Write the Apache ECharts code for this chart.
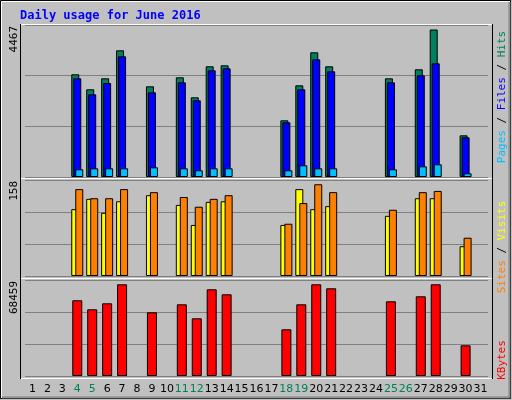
<!DOCTYPE html>
<html><head><meta charset="utf-8">
<script src="https://cdn.jsdelivr.net/npm/echarts@6/dist/echarts.min.js"></script>
<style>html,body{margin:0;padding:0;background:#c0c0c0}#c{width:512px;height:400px}</style>
</head><body><div id="c"></div>
<script>
const days = Array.from({length:31},(_,i)=>String(i+1));
const weekend = ['4','5','11','12','18','19','25','26'];
const hits   = [0,0,0,3018,2577,2900,3723,0,2665,0,2930,2342,3253,3282,0,0,0,1666,2694,3664,3253,0,0,0,2900,0,3165,4335,0,1225,0];
const files  = [0,0,0,2900,2430,2762,3547,0,2489,0,2783,2254,3136,3194,0,0,0,1607,2577,3458,3106,0,0,0,2783,0,2988,3341,0,1166,0];
const pages  = [0,0,0,226,255,255,255,0,285,0,255,197,255,255,0,0,0,197,343,255,255,0,0,0,226,0,314,373,0,108,0];
const visits = [0,0,0,110,127,104,123,0,133,0,117,84,122,123,0,0,0,84,143,110,115,0,0,0,99,0,128,128,0,49,0];
const sites  = [0,0,0,143,128,128,143,0,138,0,130,114,127,133,0,0,0,86,120,151,138,0,0,0,109,0,138,140,0,63,0];
const kbytes = [0,0,0,54000,47560,51840,65390,0,45420,0,51130,41140,61820,58260,0,0,0,33300,51130,65390,62540,0,0,0,53270,0,56830,65390,0,21890,0];
const maxTop = 4467, maxMid = 158, maxBot = 68459;

const chart = echarts.init(document.getElementById('c'));
const grids = [{left:25,right:24,top:25,height:152},{left:25,right:24,top:180,height:96},{left:25,right:24,top:280,height:96}];
const xAxes = grids.map((g,i)=>({type:'category',gridIndex:i,data:days,
  axisLine:{show:false},axisTick:{show:false},
  axisLabel:{show:i===2,interval:0,margin:8,fontFamily:'DejaVu Sans',fontSize:11,
    color:(v)=>weekend.includes(v)?'#00805c':'#000'}}));
const yAxes = [maxTop,maxMid,maxBot].map((m,i)=>({type:'value',gridIndex:i,min:0,max:m,interval:m/3,
  axisLabel:{show:false},axisLine:{show:false},axisTick:{show:false},
  splitLine:{show:true,lineStyle:{color:'#808080',width:1}}}));
const bs = (name,data,color,gi,w,gap)=>({type:'bar',name,data:data.map(v=>v||null),xAxisIndex:gi,yAxisIndex:gi,
  barWidth:w,barGap:gap,itemStyle:{color,borderColor:'#000',borderWidth:1},silent:true,animation:false});
const rt = (x,y,parts,align)=>({type:'text',x,y,rotation:Math.PI/2,style:{
  text:parts.map(p=>'{'+p[1]+'|'+p[0]+'}').join(''),align:align||'center',verticalAlign:'middle',
  font:'11px "DejaVu Sans Mono"',
  rich:Object.fromEntries(parts.map(p=>[p[1],{fill:p[2],fontFamily:'DejaVu Sans Mono',fontSize:11}]))}});
const line=(x1,y1,x2,y2,c)=>({type:'line',shape:{x1,y1,x2,y2},style:{stroke:c,lineWidth:1}});
chart.setOption({
  backgroundColor:'#c0c0c0',animation:false,
  grid:grids,xAxis:xAxes,yAxis:yAxes,
  series:[bs('Hits',hits,'#00805c',0,8,'-75%'),bs('Files',files,'#0000ff',0,8,'-75%'),bs('Pages',pages,'#00c0ff',0,8,'-75%'),
    bs('Visits',visits,'#ffff00',1,8,'-50%'),bs('Sites',sites,'#ff8000',1,8,'-50%'),
    bs('KBytes',kbytes,'#ff0000',2,10,'0%')],
  graphic:[
    {type:'rect',shape:{x:0.5,y:0.5,width:510,height:398},style:{fill:null,stroke:'#000',lineWidth:1}},
    line(1.5,1.5,510,1.5,'#fff'),line(1.5,1.5,1.5,398,'#fff'),
    line(2,397,510,397,'#808080'),line(2,398,510,398,'#808080'),line(509,2,509,398,'#808080'),line(510,2,510,398,'#808080'),
    {type:'text',x:20,y:16,style:{text:'Daily usage for June 2016',fill:'#0000ff',font:'bold 12px "DejaVu Sans Mono"',verticalAlign:'middle'}},
    line(20,24.5,493,24.5,'#fff'),line(20,178.5,493,178.5,'#fff'),line(20,278.5,493,278.5,'#fff'),line(20,378.5,493,378.5,'#fff'),
    line(20.5,24,20.5,379,'#000'),line(492.5,24,492.5,379,'#000'),
    rt(14,26,[['4467','a','#000']],'right'),
    rt(14,181,[['158','a','#000']],'right'),
    rt(14,281,[['68459','a','#000']],'right'),
    rt(502,97,[['Pages','p','#00c0ff'],[' / ','s','#000'],['Files','f','#0000ff'],[' / ','s','#000'],['Hits','h','#00805c']]),
    rt(502,247,[['Sites','p','#ff8000'],[' / ','s','#000'],['Visits','v','#ffff00']]),
    rt(502,360,[['KBytes','k','#ff0000']])
  ]
});
</script></body></html>
